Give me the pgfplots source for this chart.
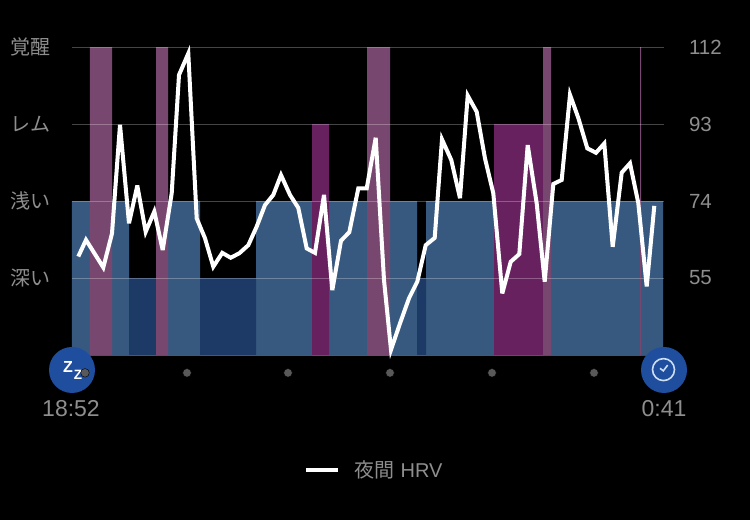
\documentclass[border=0pt]{standalone}
\usepackage{pgfplots}
\usepackage{pgfplotstable}
\usepackage{fontspec}
\pgfplotsset{compat=1.18}
\setmainfont{Liberation Sans}
\newfontfamily\cjk{Noto Sans CJK JP}
\definecolor{lightblue}{HTML}{38597F}
\definecolor{darkblue}{HTML}{1D3A67}
\definecolor{awake}{HTML}{78476F}
\definecolor{rem}{HTML}{66215E}
\definecolor{txt}{HTML}{8E8E8E}
\definecolor{badge}{HTML}{1F4E9F}
\pgfplotstableread{
x hrv
78.3 60.3
86 64.4
103.3 57.6
112 66.0
120 92.8
129 68.5
137.3 77.8
145.7 66.4
154.3 71.4
162.7 61.9
171.7 75.9
179 105.1
188.3 110.4
196.7 69.7
205 64.8
213.3 57.8
222.3 61.2
230.7 60.0
239.3 61.1
248.3 63.1
256.7 67.7
265 73.0
273.3 75.5
281 80.4
290 75.5
298.3 72.3
306.7 62.3
315 61.2
324 75.5
332.3 52.0
341 64.2
349.3 66.3
358.3 77.1
366.7 77.1
375.7 89.6
384 54.5
391 37.3
400 43.8
409 50.0
417.3 54.1
425.7 63.1
434.7 64.9
442 89.2
451.3 84.1
460 74.7
467.7 100.0
476.7 96.0
485 84.5
493.3 75.9
502.3 51.2
510.7 59.0
519.3 60.9
527.7 87.8
536.7 73.4
544.7 54.1
553.3 78.2
561.7 79.2
570 100.2
578.3 94.5
587.3 87.0
596 85.9
604.3 88.2
612.7 62.7
621.7 81.0
630 83.3
638.3 73.5
646.7 52.9
654.3 72.8
}\hrvdata
\begin{document}
\begin{tikzpicture}[x=1pt,y=1pt]
\fill[black] (0,0) rectangle (750,520);
\begin{axis}[
  at={(72pt,165pt)}, anchor=south west,
  scale only axis, width=592pt, height=308pt,
  xmin=72, xmax=664, ymin=36, ymax=112,
  clip=false, axis on top,
  axis line style={draw=none},
  xtick=\empty,
  ytick={55,74,93,112},
  ymajorgrids,
  grid style={white,opacity=0.27,line width=1pt},
  major tick length=0pt,
  ticklabel pos=right,
  yticklabel style={font=\fontsize{20.5}{24}\selectfont,text=txt,anchor=west,xshift=21.5pt,/pgf/number format/assume math mode=true},
  legend style={at={(0.392,-0.373)},anchor=west,draw=none,fill=none,text=txt,font=\fontsize{20}{24}\selectfont,inner sep=0pt,outer sep=0pt,nodes={inner sep=0pt}},
  legend cell align=left,
  legend image code/.code={\draw[#1] (0pt,0pt) -- (32pt,0pt);},
  /tikz/every even column/.append style={column sep=0pt},
]
% sleep stages: level held from each x to the next
\addplot[const plot,fill=lightblue,draw=none,forget plot] coordinates {(72,74)(90,36)(112,74)(129,36)(168,74)(200,36)(256,74)(312,36)(329,74)(367,36)(390,74)(417,36)(426,74)(494,36)(551,74)(663,36)} \closedcycle;
\addplot[const plot,fill=darkblue,draw=none,forget plot] coordinates {(129,55)(156,36)(200,55)(256,36)(417,55)(426,36)} \closedcycle;
\addplot[const plot,fill=rem,draw=none,forget plot] coordinates {(312,93)(329,36)(494,93)(543,36)} \closedcycle;
\addplot[const plot,fill=awake,draw=none,forget plot] coordinates {(90,112)(112,36)(156,112)(168,36)(367,112)(390,36)(543,112)(551,36)(640,112)(641.2,36)} \closedcycle;
\addplot[white,opacity=0.27,line width=1pt,forget plot] coordinates {(72,36)(664,36)};
% night HRV
\addplot[white,line width=4pt,miter limit=5] table[x=x,y=hrv] {\hrvdata};
\addlegendentry{\hspace{14.5pt}\cjk 夜間\hspace{6pt}\rmfamily HRV}
% badges
\fill[badge] (axis cs:72,32.3) circle[radius=23pt];
\fill[badge] (axis cs:664,32.3) circle[radius=23pt];
\node[white,font=\fontsize{16}{16}\selectfont\bfseries,inner sep=0pt] at (axis cs:68,33.0) {Z};
\node[white,font=\fontsize{13.5}{14}\selectfont\bfseries,inner sep=0pt] at (axis cs:78,31.2) {Z};
\draw[color={rgb,255:red,205;green,222;blue,245},line width=1.6pt] (axis cs:663.5,32.4) circle[radius=11pt];
\draw[color={rgb,255:red,205;green,222;blue,245},line width=1.6pt] (axis cs:660,32.7) -- (axis cs:663.3,32.1) -- (axis cs:667.7,33.5);
% timeline dots
\addplot[only marks,mark=*,mark size=4.3pt,mark options={draw=none,fill=black!65!white},forget plot] coordinates {(85,31.6)(187,31.6)(288,31.6)(390,31.6)(492,31.6)(594,31.6)};
% labels
\node[text=txt,font=\cjk\fontsize{20}{22}\selectfont] at (axis cs:30.5,112) {覚醒};
\node[text=txt,font=\cjk\fontsize{20}{22}\selectfont] at (axis cs:30.5,93) {レム};
\node[text=txt,font=\cjk\fontsize{20}{22}\selectfont] at (axis cs:30.5,74) {浅い};
\node[text=txt,font=\cjk\fontsize{20}{22}\selectfont] at (axis cs:30.5,55) {深い};
\node[text=txt,font=\fontsize{23}{24}\selectfont] at (axis cs:71,22.7) {18:52};
\node[text=txt,font=\fontsize{23}{24}\selectfont] at (axis cs:664,22.7) {0:41};
\end{axis}
\path (0,0) rectangle (750,520);
\end{tikzpicture}
\end{document}
